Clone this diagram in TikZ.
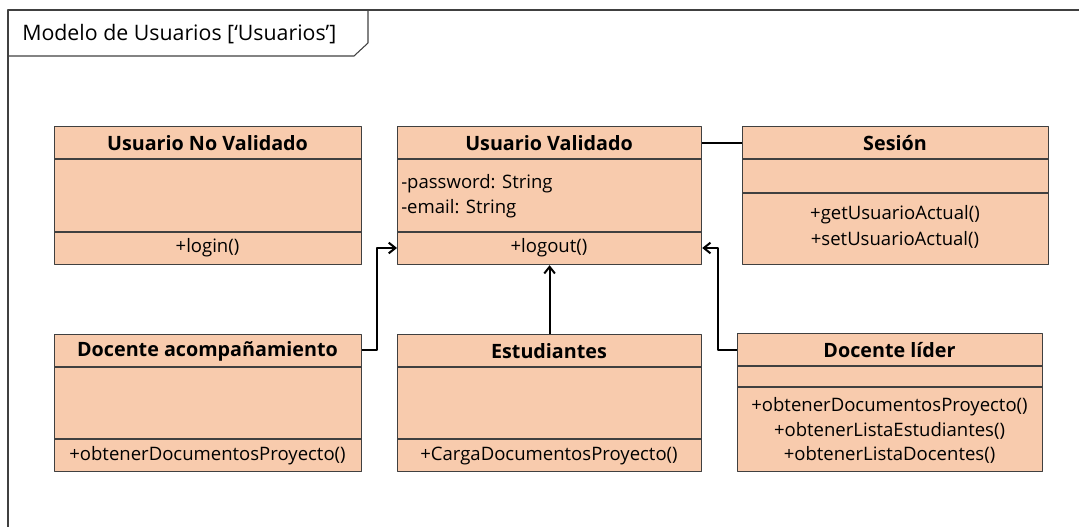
\documentclass[tikz,border=0pt]{standalone}
\usepackage{fontspec}
\setmainfont{Open Sans}
\usetikzlibrary{arrows.meta}
\definecolor{durazno}{RGB}{248,203,173}
\definecolor{borde}{RGB}{64,64,64}
\begin{document}
\begin{tikzpicture}[x=0.75pt, y=-0.75pt, line join=round, >={Straight Barb[length=5pt,width=8pt]},
		clase/.style={draw=borde, fill=durazno, line width=0.9pt, rectangle, inner sep=0pt, anchor=north west},
		nombre/.style={font=\bfseries\fontsize{14.8}{17}\selectfont, inner sep=0pt},
		texto/.style={font=\fontsize{13.9}{16}\selectfont, inner sep=0pt},
		sep/.style={draw=borde, line width=0.9pt},
		flecha/.style={->, line width=1.5pt}]
	\useasboundingbox (0,0) rectangle (1079,527);
	% marco del paquete
	\draw[borde, line width=0.8pt] (8,527)--(8,10)--(1079,10);
	\draw[borde, line width=0.8pt] (8,56)--(354,56)--(368,43)--(368,10);
	\node[texto, font=\fontsize{16}{18}\selectfont, anchor=west] (marco) at (22,34) {Modelo de Usuarios [`Usuarios']};
	% clases
	\node[clase, minimum width=307*0.75pt, minimum height=138*0.75pt] (unv) at (54,126) {};
	\node[clase, minimum width=304*0.75pt, minimum height=138*0.75pt] (uv) at (397,126) {};
	\node[clase, minimum width=306*0.75pt, minimum height=138*0.75pt] (ses) at (742,126) {};
	\node[clase, minimum width=307*0.75pt, minimum height=137*0.75pt] (dac) at (54,334) {};
	\node[clase, minimum width=304*0.75pt, minimum height=137*0.75pt] (est) at (397,334) {};
	\node[clase, minimum width=305*0.75pt, minimum height=138*0.75pt] (dl) at (737,333) {};
	% compartimentos
	\foreach \c/\a/\b in {unv/159/232, uv/159/232, ses/159/193, dac/367/439, est/367/439, dl/366/387}{
		\draw[sep] (\c.west |- 0,\a)--(\c.east |- 0,\a);
		\draw[sep] (\c.west |- 0,\b)--(\c.east |- 0,\b);
	}
	% nombres
	\node[nombre] (unv-n) at (207.5,143) {Usuario No Validado};
	\node[nombre] (uv-n) at (549,143) {Usuario Validado};
	\node[nombre] (ses-n) at (895,143) {Sesi\'on};
	\node[nombre] (dac-n) at (207.5,351) {Docente acompa\~namiento};
	\node[nombre] (est-n) at (549,351) {Estudiantes};
	\node[nombre] (dl-n) at (889.5,350) {Docente l\'{\i}der};
	% atributos y metodos
	\node[texto, anchor=west] (uv-a1) at (401,184) {-password: String};
	\node[texto, anchor=west] (uv-a2) at (401,209) {-email: String};
	\node[texto] (unv-m) at (207.5,248) {+login()};
	\node[texto] (uv-m) at (549,248) {+logout()};
	\node[texto] (ses-m1) at (895,215) {+getUsuarioActual()};
	\node[texto] (ses-m2) at (895,240) {+setUsuarioActual()};
	\node[texto] (dac-m) at (207.5,456) {+obtenerDocumentosProyecto()};
	\node[texto] (est-m) at (549,456) {+CargaDocumentosProyecto()};
	\node[texto] (dl-m1) at (889.5,407) {+obtenerDocumentosProyecto()};
	\node[texto] (dl-m2) at (889.5,431) {+obtenerListaEstudiantes()};
	\node[texto] (dl-m3) at (889.5,455) {+obtenerListaDocentes()};
	% relaciones
	\draw[line width=1.5pt] (uv.east |- 0,143)--(ses.west |- 0,143);
	\draw[flecha] (dac.east |- 0,350)--(377,350)--(377,248)--(uv.west |- 0,248);
	\draw[flecha] (est.north)--(uv.south);
	\draw[flecha] (dl.west |- 0,350)--(718,350)--(718,248)--(uv.east |- 0,248);
\end{tikzpicture}
\end{document}
